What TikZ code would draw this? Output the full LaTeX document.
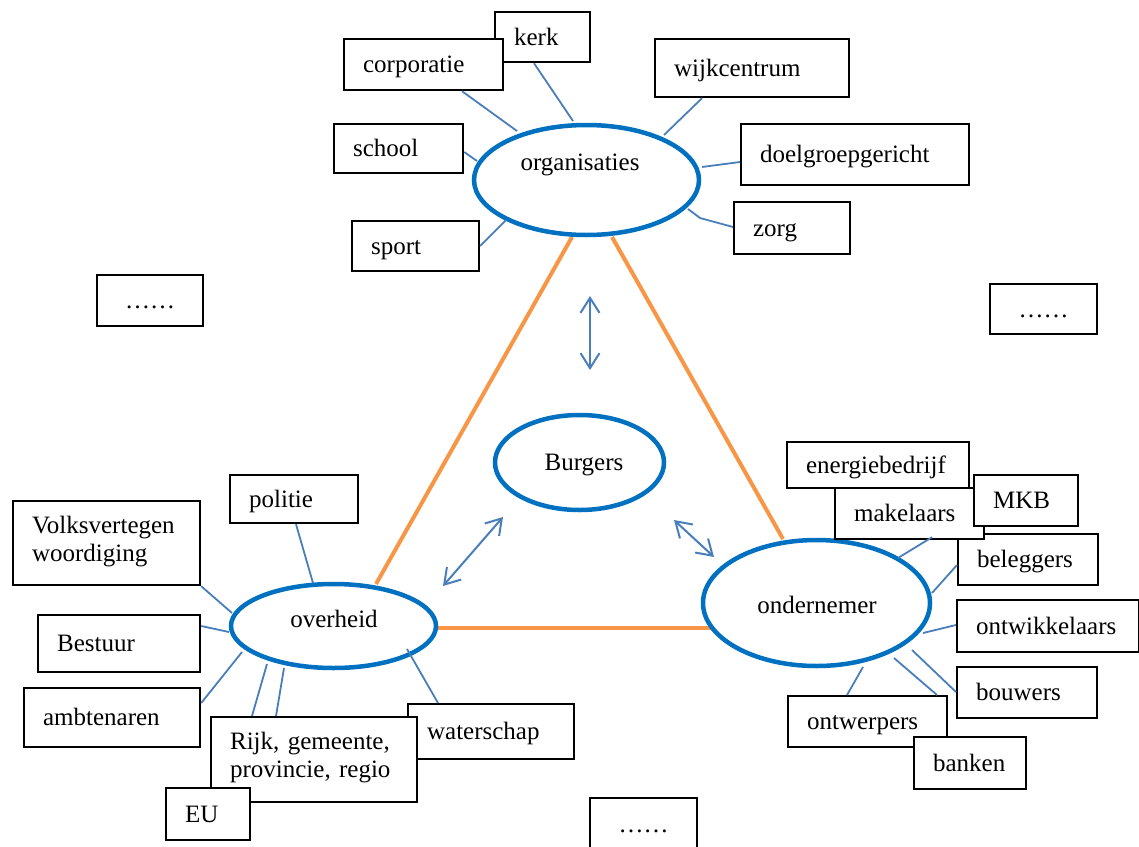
\documentclass[tikz,border=0pt]{standalone}
\usepackage{fontspec}
\setmainfont{Liberation Serif}
\usetikzlibrary{shapes.geometric,arrows.meta,backgrounds,calc}
\definecolor{ellblue}{HTML}{0070C0}
\definecolor{lnblue}{HTML}{4A7EBB}
\definecolor{orng}{HTML}{F79646}
\begin{document}
\begin{tikzpicture}[x=1pt,y=-1pt,
  font=\fontsize{25}{28}\selectfont,
  bx/.style 2 args={draw=black, fill=white, line width=2.2pt, anchor=north west,
    text width=#1, minimum height=#2, inner xsep=19pt, inner ysep=0pt, align=left,
    text height=19pt, text depth=3pt},
  dotbox/.style 2 args={draw=black, fill=white, line width=2.2pt, anchor=north west,
    minimum width=#1, minimum height=#2, inner sep=0pt, text height=19pt, text depth=3pt},
  ell/.style 2 args={ellipse, draw=ellblue, fill=white, line width=4.5pt,
    minimum width=#1, minimum height=#2, inner sep=0pt},
  lbl/.style={anchor=base, inner sep=0pt},
  con/.style={draw=lnblue, line width=1.8pt},
  arr/.style={draw=lnblue, line width=2pt,
    {Straight Barb[length=15pt,width=19pt]}-{Straight Barb[length=15pt,width=19pt]}},
  tri/.style={draw=orng, line width=4pt}]
\useasboundingbox (0,0) rectangle (1139,846);
\clip (0,0) rectangle (1139,846);

% ellipses
\node[ell={225}{110}] (org) at (586.5,180) {};
\node[lbl] (orgT) at (580,170) {organisaties};
\node[ell={169}{95}] (bur) at (579.5,462.5) {};
\node[lbl] (burT) at (584,470) {Burgers};
\node[ell={205}{84}] (ovh) at (333.5,626) {};
\node[lbl] (ovhT) at (334,627) {overheid};
\node[ell={227}{126}] (ond) at (816.5,603) {};
\node[lbl] (ondT) at (817,613) {ondernemer};

% orange triangle
\begin{scope}[on background layer]
\draw[tri] ($(org.center)+(-14.5,57)$) -- ($(ovh.center)+(42.5,-42)$);
\draw[tri] ($(org.center)+(25.5,57)$) -- ($(ond.center)+(-33.5,-64)$);
\draw[tri] ($(ovh.center)+(100,2)$) -- ($(ond.center)+(-100,25)$);
\end{scope}

% top cluster
\node[bx={57pt}{50pt}] (kerk) at (494,11) {kerk};
\node[bx={121pt}{51pt}] (corp) at (343,38) {corporatie};
\node[bx={91pt}{49pt}] (school) at (333,123) {school};
\node[bx={89pt}{50pt}] (sport) at (351,220) {sport};
\node[bx={156pt}{58pt}] (wijk) at (654,38) {wijkcentrum};
\node[bx={190pt}{61pt}] (doel) at (740,123) {doelgroepgericht};
\node[bx={78pt}{52pt}] (zorg) at (733,201) {zorg};

% dots boxes
\node[dotbox={106pt}{51pt}] (dl) at (96,274) {……};
\node[dotbox={107pt}{50pt}] (dr) at (989,283) {……};
\node[dotbox={107pt}{52pt}] (db) at (589,797) {……};

% left cluster
\node[bx={90pt}{48pt}] (pol) at (229,474) {politie};
\node[bx={149pt}{84pt}, text depth=39pt] (volk) at (12,500) {\mbox{Volksvertegen}\\woordiging};
\node[bx={124pt}{57pt}] (best) at (37,614) {Bestuur};
\node[bx={138pt}{59pt}] (amb) at (23,687) {ambtenaren};
\node[bx={128pt}{55pt}] (wat) at (407,703) {waterschap};
\node[bx={168pt}{85pt}, text depth=39pt] (rijk) at (210,716) {Rijk, gemeente,\\provincie, regio};
\node[bx={46pt}{52pt}] (eu) at (165,787) {EU};

% right cluster
\node[bx={144pt}{46pt}] (ener) at (786,441) {energiebedrijf};
\node[bx={102pt}{51pt}] (bel) at (957,533) {beleggers};
\node[bx={111pt}{51pt}] (mak) at (834,487) {makelaars};
\node[bx={66pt}{51pt}] (mkb) at (973,474) {MKB};
\node[bx={144pt}{52pt}] (ontw) at (956,599) {ontwikkelaars};
\node[bx={102pt}{51pt}] (bouw) at (956,666) {bouwers};
\node[bx={121pt}{51pt}] (ontwp) at (787,695) {ontwerpers};
\node[bx={74pt}{52pt}] (bank) at (913,736) {banken};

% connectors: organisaties
\draw[con] ([xshift=119pt]corp.south west) -- ($(org.center)+(-69.5,-49)$);
\draw[con] ([xshift=40pt]kerk.south west) -- ($(org.center)+(-13.5,-59)$);
\draw[con] ([yshift=-29pt]school.north east) -- ($(org.center)+(-109.5,-19)$);
\draw[con] ([yshift=-26pt]sport.north east) -- ($(org.center)+(-80.5,40)$);
\draw[con] ([xshift=48pt]wijk.south west) -- ($(org.center)+(77.5,-45)$);
\draw[con] ([yshift=-39pt]doel.north west) -- ($(org.center)+(115.5,-13)$);
\draw[con] ([yshift=-26pt]zorg.north west) -- ($(org.center)+(113.5,38)$) -- ($(org.center)+(101.5,29)$);

% connectors: overheid
\draw[con] ([xshift=67pt]pol.south west) -- ($(ovh.center)+(-20.5,-43)$);
\draw[con] (volk.south east) -- ($(ovh.center)+(-101.5,-13)$);
\draw[con] ([yshift=-12pt]best.north east) -- ($(ovh.center)+(-104.5,6)$);
\draw[con] ([yshift=-16pt]amb.north east) -- ($(ovh.center)+(-91.5,26)$);
\draw[con] ([xshift=42pt]rijk.north west) -- ($(ovh.center)+(-66.5,38)$);
\draw[con] ([xshift=66pt]rijk.north west) -- ($(ovh.center)+(-49.5,42)$);
\draw[con] ([xshift=31pt]wat.north west) -- ($(ovh.center)+(73.5,23)$);

% connectors: ondernemer
\draw[con] ([xshift=98pt,yshift=3pt]mak.south west) -- ($(ond.center)+(81.5,-45)$);
\draw[con] ([yshift=-32pt]bel.north west) -- ($(ond.center)+(115.5,-10)$);
\draw[con] ([yshift=-26pt]ontw.north west) -- ($(ond.center)+(106.5,30)$);
\draw[con] ([yshift=-26pt]bouw.north west) -- ($(ond.center)+(95.5,47)$);
\draw[con] ([xshift=150pt]ontwp.north west) -- ($(ond.center)+(77.5,55)$);
\draw[con] ([xshift=60pt]ontwp.north west) -- ($(ond.center)+(46.5,64)$);

% double arrows around Burgers
\coordinate (a1) at (590,296);
\coordinate (a2) at (590,370);
\coordinate (b1) at (503,517);
\coordinate (b2) at (443,586);
\coordinate (c1) at (674,520);
\coordinate (c2) at (714,557);
\draw[arr] (a1) -- (a2);
\draw[arr] (b1) -- (b2);
\draw[arr] (c1) -- (c2);
\end{tikzpicture}
\end{document}
